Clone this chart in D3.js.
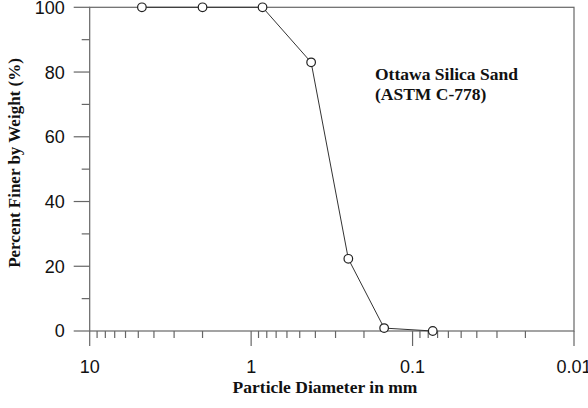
<!DOCTYPE html>
<html>
<head>
<meta charset="utf-8">
<script src="https://cdn.jsdelivr.net/npm/d3@7"></script>
<style>
  body { margin: 0; background: #fff; }
  svg { display: block; }
</style>
</head>
<body>
<svg></svg>
<script>
const width = 588,
    height = 408;

// sieve sizes (mm) and percent passing
const diameters = [4.75, 2.0, 0.85, 0.425, 0.25, 0.15, 0.075];
const percentFiner = [100, 100, 100, 83, 22.3, 0.9, 0];

const xTickLabels = [10, 1, 0.1, 0.01];
const yTickLabels = [0, 20, 40, 60, 80, 100];

const margin = { left: 89.7, right: 14, top: 7.3, bottom: 77 };

const x = d3.scaleLog()
    .domain([10, 0.01])
    .range([margin.left, width - margin.right]);

const y = d3.scaleLinear()
    .domain([0, 100])
    .range([height - margin.bottom, margin.top]);

const svg = d3.select("svg")
    .attr("width", width)
    .attr("height", height);

const axisColor = "#666";

// frame
svg.append("rect")
    .attr("x", x(10))
    .attr("y", y(100))
    .attr("width", x(0.01) - x(10))
    .attr("height", y(0) - y(100))
    .attr("fill", "none")
    .attr("stroke", axisColor)
    .attr("stroke-width", 1.2);

// y axis ticks
const yMinor = d3.range(10, 100, 20);
svg.selectAll(".ymaj")
    .data(yTickLabels)
    .enter()
    .append("line")
    .attr("x1", x(10) - 16)
    .attr("x2", x(10))
    .attr("y1", d => y(d))
    .attr("y2", d => y(d))
    .attr("stroke", axisColor)
    .attr("stroke-width", 1.2);

svg.selectAll(".ymin")
    .data(yMinor)
    .enter()
    .append("line")
    .attr("x1", x(10) - 8)
    .attr("x2", x(10))
    .attr("y1", d => y(d))
    .attr("y2", d => y(d))
    .attr("stroke", axisColor)
    .attr("stroke-width", 1.2);

svg.selectAll(".ylab")
    .data(yTickLabels)
    .enter()
    .append("text")
    .attr("x", x(10) - 25)
    .attr("y", d => y(d))
    .attr("dy", "0.36em")
    .attr("text-anchor", "end")
    .attr("font-family", "Liberation Sans, Arial, sans-serif")
    .attr("font-size", 18)
    .attr("fill", "#111")
    .text(d => d);

// x axis ticks (log)
const xMinor = [];
[1, 0.1, 0.01].forEach(dec => {
    for (let k = 2; k <= 9; k++) xMinor.push(dec * k);
});

svg.selectAll(".xmin")
    .data(xMinor)
    .enter()
    .append("line")
    .attr("x1", d => x(d))
    .attr("x2", d => x(d))
    .attr("y1", y(0))
    .attr("y2", y(0) + 7)
    .attr("stroke", axisColor)
    .attr("stroke-width", 1.2);

svg.selectAll(".xmaj")
    .data(xTickLabels)
    .enter()
    .append("line")
    .attr("x1", d => x(d))
    .attr("x2", d => x(d))
    .attr("y1", y(0))
    .attr("y2", y(0) + 15)
    .attr("stroke", axisColor)
    .attr("stroke-width", 1.2);

svg.selectAll(".xlab")
    .data(xTickLabels)
    .enter()
    .append("text")
    .attr("x", d => x(d))
    .attr("y", y(0) + 42)
    .attr("text-anchor", "middle")
    .attr("font-family", "Liberation Sans, Arial, sans-serif")
    .attr("font-size", 18)
    .attr("fill", "#111")
    .text(d => d);

// axis titles
svg.append("text")
    .attr("x", 325)
    .attr("y", 393)
    .attr("text-anchor", "middle")
    .attr("font-family", "Liberation Serif, Times New Roman, serif")
    .attr("font-weight", "bold")
    .attr("font-size", 17.5)
    .attr("fill", "#111")
    .text("Particle Diameter in mm");

svg.append("text")
    .attr("transform", "translate(20,163) rotate(-90)")
    .attr("text-anchor", "middle")
    .attr("font-family", "Liberation Serif, Times New Roman, serif")
    .attr("font-weight", "bold")
    .attr("font-size", 17)
    .attr("fill", "#111")
    .text("Percent Finer by Weight (%)");

// annotation
const note = svg.append("text")
    .attr("font-family", "Liberation Serif, Times New Roman, serif")
    .attr("font-weight", "bold")
    .attr("font-size", 17.5)
    .attr("fill", "#111");
note.append("tspan").attr("x", 375).attr("y", 80).text("Ottawa Silica Sand");
note.append("tspan").attr("x", 375).attr("y", 100).text("(ASTM C-778)");

// gradation curve
const points = diameters.map((d, i) => ({ d: d, p: percentFiner[i] }));

svg.append("path")
    .datum(points)
    .attr("fill", "none")
    .attr("stroke", "#333")
    .attr("stroke-width", 1)
    .attr("d", d3.line().x(d => x(d.d)).y(d => y(d.p)));

svg.selectAll("circle")
    .data(points)
    .enter()
    .append("circle")
    .attr("cx", d => x(d.d))
    .attr("cy", d => y(d.p))
    .attr("r", 4.3)
    .attr("fill", "#fff")
    .attr("stroke", "#222")
    .attr("stroke-width", 1.2);
</script>
</body>
</html>
